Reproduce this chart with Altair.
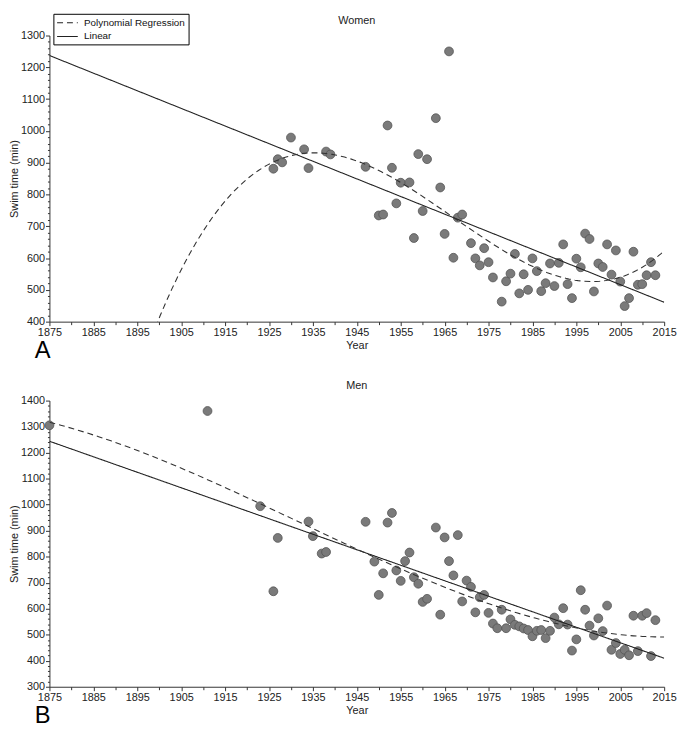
import altair as alt
import pandas as pd

# ---------------- data ----------------
women_years = [1926, 1927, 1928, 1930, 1933, 1934, 1938, 1939, 1947, 1950,
               1951, 1952, 1953, 1954, 1955, 1957, 1958, 1959, 1960, 1961,
               1963, 1964, 1965, 1966, 1967, 1968, 1969, 1971, 1972, 1973,
               1974, 1975, 1976, 1978, 1979, 1980, 1981, 1982, 1983, 1984,
               1985, 1986, 1987, 1988, 1989, 1990, 1991, 1992, 1993, 1994,
               1995, 1996, 1997, 1998, 1999, 2000, 2001, 2002, 2003, 2004,
               2005, 2006, 2007, 2008, 2009, 2010, 2011, 2012, 2013]
women_times = [881, 911, 901, 979, 942, 883, 935, 926, 887, 734,
               737, 1017, 884, 772, 837, 838, 663, 927, 748, 911,
               1040, 822, 676, 1250, 601, 727, 737, 647, 599, 577,
               631, 587, 539, 463, 527, 551, 613, 489, 549, 500,
               599, 559, 496, 521, 583, 512, 585, 643, 518, 474,
               598, 571, 677, 660, 495, 583, 572, 643, 548, 624,
               526, 449, 474, 620, 516, 518, 546, 587, 546]

men_years = [1875, 1911, 1923, 1926, 1927, 1934, 1935, 1937, 1938, 1947,
             1949, 1950, 1951, 1952, 1953, 1954, 1955, 1956, 1957, 1958,
             1959, 1960, 1961, 1963, 1964, 1965, 1966, 1967, 1968, 1969,
             1970, 1971, 1972, 1973, 1974, 1975, 1976, 1977, 1978, 1979,
             1980, 1981, 1982, 1983, 1984, 1985, 1986, 1987, 1988, 1989,
             1990, 1991, 1992, 1993, 1994, 1995, 1996, 1997, 1998, 1999,
             2000, 2001, 2002, 2003, 2004, 2005, 2006, 2007, 2008, 2009,
             2010, 2011, 2012, 2013]
men_times = [1305, 1360, 994, 667, 872, 935, 879, 812, 818, 934,
             781, 653, 736, 931, 968, 747, 707, 783, 816, 721,
             696, 626, 638, 912, 577, 874, 783, 728, 883, 628,
             708, 684, 586, 644, 653, 584, 543, 525, 596, 525,
             559, 538, 532, 524, 518, 494, 515, 518, 487, 515,
             566, 540, 602, 539, 439, 482, 671, 596, 535, 497,
             563, 514, 612, 442, 468, 426, 442, 421, 573, 437,
             573, 583, 418, 556]

series_names = ["Polynomial Regression", "Linear"]
panel_titles = ["Women", "Men"]
panel_letters = ["A", "B"]
x_range = [1875, 2015]
y_range_women = [400, 1300]
y_range_men = [300, 1400]

# ---------------- styling ----------------
FONT = "Arial, Liberation Sans, Helvetica, sans-serif"
W, H = 623, 290


def panel(years, times, title, letter, yr, show_legend):
    df = pd.DataFrame({"year": years, "time": times})
    base = alt.Chart(df)

    x = alt.X(
        "year:Q",
        scale=alt.Scale(domain=x_range, nice=False, zero=False),
        axis=alt.Axis(
            values=list(range(x_range[0], x_range[1] + 1, 5)),
            labelExpr="datum.value % 10 === 5 ? '' + datum.value : ''",
            tickSize={"condition": {"test": "datum.value % 10 === 5", "value": 4}, "value": 3},
            labelPadding=1, labelOverlap=False, labelFlush=False,
            title="Year", titlePadding=2,
        ),
    )
    y = alt.Y(
        "time:Q",
        scale=alt.Scale(domain=yr, nice=False, zero=False),
        axis=alt.Axis(
            values=list(range(yr[0], yr[1] + 1, 20)),
            labelExpr="datum.value % 100 === 0 ? '' + datum.value : ''",
            tickSize={"condition": {"test": "datum.value % 100 === 0", "value": 4}, "value": 2},
            labelPadding=1, labelOverlap=False, labelFlush=False,
            title="Swim time (min)", titlePadding=1,
        ),
    )

    if show_legend:
        leg = alt.Legend(
            orient="none", legendX=4, legendY=-22, title=None,
            strokeColor="black", fillColor="white", padding=3,
            symbolType="M-1,0H3", symbolSize=110, symbolStrokeWidth=1.1,
            symbolStrokeColor="#222", labelOffset=16, rowPadding=3,
            labelFontSize=10, labelFont=FONT, labelColor="#111",
        )
    else:
        leg = None

    dash = alt.StrokeDash(
        "kind:N",
        scale=alt.Scale(domain=series_names, range=[[6, 4], [1, 0]]),
        legend=leg,
    )

    pts = base.mark_point(
        shape="circle", filled=True, fill="#7a7a7a", stroke="#555555",
        strokeWidth=0.8, size=80, opacity=1,
    ).encode(x=x, y=y)

    lin = (
        base.transform_regression("year", "time", method="linear", extent=x_range)
        .transform_calculate(kind="'Linear'")
        .mark_line(color="#222222", strokeWidth=1.1, clip=True)
        .encode(x=x, y=y, strokeDash=dash)
    )
    poly = (
        base.transform_regression("year", "time", method="poly", order=3, extent=x_range)
        .transform_calculate(kind="'Polynomial Regression'")
        .mark_line(color="#333333", strokeWidth=1.1, clip=True)
        .encode(x=x, y=y, strokeDash=dash)
    )

    ttl = alt.Chart(pd.DataFrame({"t": [title]})).mark_text(
        fontSize=11, font=FONT, align="center", baseline="middle", color="#222"
    ).encode(x=alt.value(W / 2), y=alt.value(-15), text="t:N")

    lab = alt.Chart(pd.DataFrame({"lab": [letter]})).mark_text(
        fontSize=24, font=FONT, align="center", baseline="alphabetic", color="black"
    ).encode(x=alt.value(-7), y=alt.value(H + 37), text="lab:N")

    return alt.layer(pts, lin, poly, ttl, lab).properties(width=W, height=H)


top = panel(women_years, women_times, panel_titles[0], panel_letters[0], y_range_women, True)
bot = panel(men_years, men_times, panel_titles[1], panel_letters[1], y_range_men, False)

chart = (
    alt.vconcat(top, bot, spacing=17)
    .resolve_scale(strokeDash="independent")
    .resolve_legend(strokeDash="independent")
    .properties(padding={"left": 0, "top": 0, "right": 0, "bottom": 0})
    .configure_view(stroke=None)
    .configure_axis(
        grid=False, domainColor="#333", domainWidth=1, tickColor="#333",
        labelColor="#222", labelFont=FONT, labelFontSize=11,
        titleFont=FONT, titleFontSize=11, titleFontWeight="normal", titleColor="#222",
    )
)

chart.save("out.html", embed_options={"renderer": "svg", "actions": False})
